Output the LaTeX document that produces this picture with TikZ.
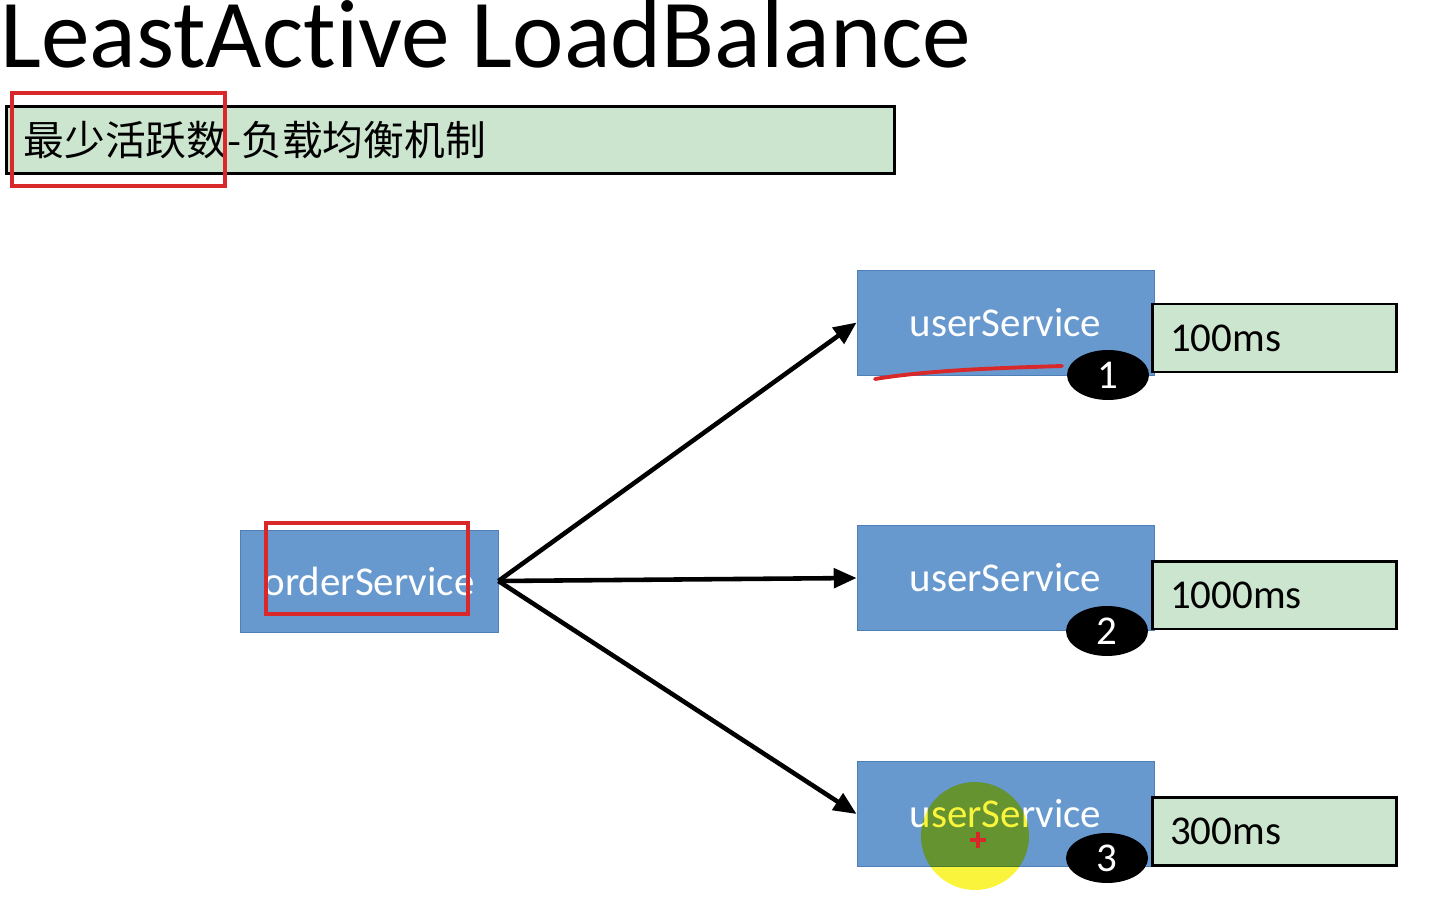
\documentclass[tikz,border=0pt]{standalone}
\usepackage{fontspec}
\setmainfont{Carlito}[Ligatures=NoCommon]
\newfontfamily\cjk{Noto Sans CJK SC}
\usepackage{tikz}
\usetikzlibrary{arrows.meta,shapes.geometric}
\definecolor{kutuMavi}{HTML}{6799CF}
\definecolor{kenarMavi}{HTML}{4F7FB8}
\definecolor{acikYesil}{HTML}{CCE5CF}
\definecolor{isaretKirmizi}{HTML}{D8282A}
\definecolor{imlecSari}{HTML}{FAF53C}

\tikzset{
  servis/.style={rectangle,fill=kutuMavi,draw=kenarMavi,line width=0.5pt,inner sep=0pt,
    text=white,font=\fontsize{23.3pt}{26pt}\selectfont},
  userbox/.style={servis,minimum width=5.94cm,minimum height=2.1cm},
  sure/.style={rectangle,fill=acikYesil,draw=black,line width=1.7pt,inner xsep=0.36cm,inner ysep=0pt,
    text width=4.18cm,align=left,minimum height=1.36cm,font=\fontsize{23.3pt}{26pt}\selectfont},
  sayi/.style={ellipse,fill=black,inner sep=0pt,minimum width=1.64cm,minimum height=1cm,
    text=white,font=\fontsize{23.3pt}{26pt}\selectfont},
  ok/.style={-{Triangle[length=13pt,width=11pt]},line width=2.6pt},
  isaret/.style={isaretKirmizi,line width=2.2pt}
}

\begin{document}
\begin{tikzpicture}[x=0.02cm,y=-0.02cm]
\useasboundingbox (0,0) rectangle (1444,922);
% baslik
\node[anchor=base west,inner sep=0pt,font=\fontsize{55.4pt}{62pt}\selectfont] (baslik) at (0,68) {LeastActive LoadBalance};
\node[rectangle,fill=acikYesil,draw=black,line width=1.7pt,anchor=north west,inner xsep=0.34cm,inner ysep=0pt,
  text width=17.08cm,align=left,minimum height=1.34cm,font=\cjk\fontsize{23.2pt}{26pt}\selectfont] (altbaslik)
  at (5,105) {最少活跃数-负载均衡机制};
\draw[isaret] (12,93) rectangle (225,186);

% servisler
\node[servis,minimum width=5.16cm,minimum height=2.04cm] (order) at (369,581) {orderService};
\node[userbox] (user1) at (1005.5,322.5) {userService};
\node[userbox] (user2) at (1005.5,578) {userService};
\node[userbox] (user3) at (1005.5,814) {userService};

\node[sure] (sure1) at (1274.5,338) {100ms};
\node[sure] (sure2) at (1274.5,595) {1000ms};
\node[sure] (sure3) at (1274.5,831.5) {300ms};

\node[sayi] (sayi1) at (1108,375) {1};
\node[sayi] (sayi2) at (1107,631) {2};
\node[sayi] (sayi3) at (1107,858) {3};

\draw[ok] (order.east) -- (user1.west);
\draw[ok] (order.east) -- (user2.west);
\draw[ok] (order.east) -- (user3.west);

% isaretler
\draw[isaret] (266,523) rectangle (468,614);
\draw[isaret,line cap=round] (875,379) .. controls (930,370) and (1000,368) .. (1062,366);
\fill[imlecSari,blend mode=multiply] (975,836) circle (1.08cm);
\draw[isaretKirmizi,line width=2.6pt] (970,840) -- (986,840) (978,832) -- (978,848);
\end{tikzpicture}
\end{document}
